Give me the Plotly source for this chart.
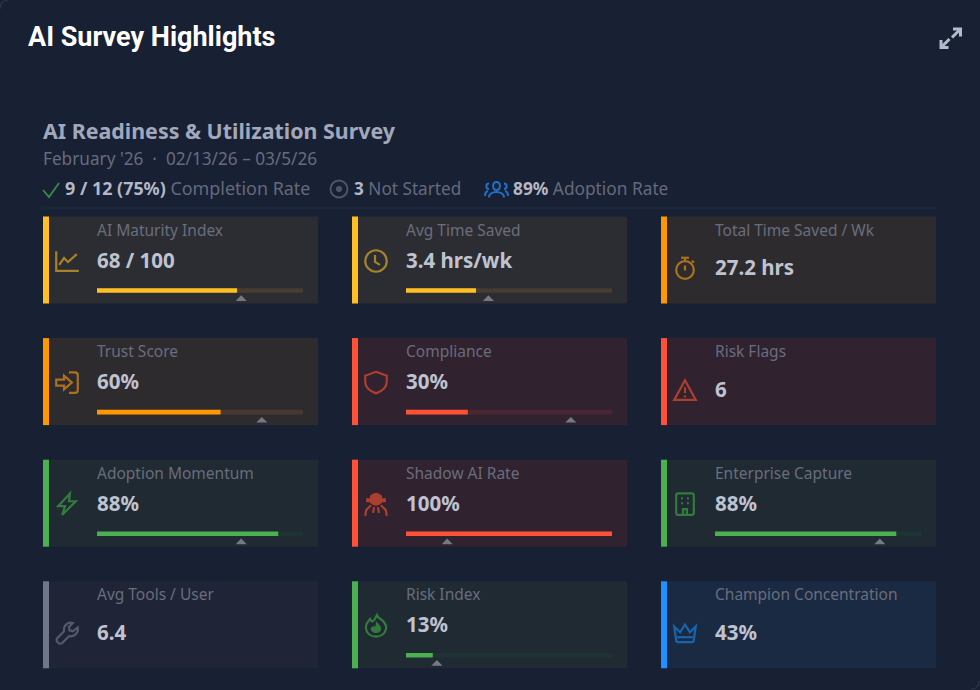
import re
import plotly.graph_objects as go

# card content, row by row
labels = ["AI Maturity Index", "Avg Time Saved", "Total Time Saved / Wk",
          "Trust Score", "Compliance", "Risk Flags",
          "Adoption Momentum", "Shadow AI Rate", "Enterprise Capture",
          "Avg Tools / User", "Risk Index", "Champion Concentration"]
value_text = ["68 / 100", "3.4 hrs/wk", "27.2 hrs",
              "60%", "30%", "6",
              "88%", "100%", "88%",
              "6.4", "13%", "43%"]
progress = [68, 34, None,
            60, 30, None,
            88, 100, 88,
            None, 13, None]
benchmark = [70, 40, None,
             80, 80, None,
             70, 20, 80,
             None, 15, None]
status = ["caution", "caution", "warn",
          "warn", "bad", "bad",
          "good", "bad", "good",
          "neutral", "good", "info"]
icons = ["chart", "clock", "stopwatch",
         "login", "shield", "alert",
         "bolt", "spy", "building",
         "wrench", "fire", "crown"]

title = "AI Survey Highlights"
survey_name = "AI Readiness & Utilization Survey"
survey_period = "February '26\u00a0\u00a0·\u00a0\u00a002/13/26 – 03/5/26"
completion_bold, completion_rest = "9 / 12 (75%)", "Completion Rate"
not_started_bold, not_started_rest = "3", "Not Started"
adoption_bold, adoption_rest = "89%", "Adoption Rate"

W, H = 980, 690
BG = "#182033"
ACCENT = {"caution": "#FFBF25", "warn": "#FF9800", "bad": "#FF5135",
          "good": "#4CAF50", "neutral": "#70768C", "info": "#1E90FF"}
CARD = {"caution": "#2C2D33", "warn": "#2E2B2F", "bad": "#30222F",
        "good": "#1F2A33", "neutral": "#1F2437", "info": "#1A2A43"}
TRACK = {"caution": "#453D2F", "warn": "#48382F", "bad": "#4A2630",
         "good": "#1E3334", "neutral": "#2A2E40", "info": "#1C3350"}
ICON = {"caution": "#A5832A", "warn": "#AB711F", "bad": "#AC3F2F",
        "good": "#347A3E", "neutral": "#53586A", "info": "#1A64AD"}
LABEL_COL = "#696D7C"
VALUE_COL = "#BFC3D0"
TRI_COL = "#767884"

# icons drawn on a 24x24 box: (path, filled)
ICON_PATHS = {
    "chart": [("M1,2 L1,22 L24,22", False), ("M4,16 L9,9 L13,13 L22,5", False)],
    "clock": [("M12,1 C18,1 23,6 23,12 C23,18 18,23 12,23 C6,23 1,18 1,12 C1,6 6,1 12,1 Z", False),
              ("M11,6 L11,13 L16,16", False)],
    "stopwatch": [("M12,4.5 C17,4.5 21,8.5 21,13.5 C21,18.5 17,22.5 12,22.5 C7,22.5 3,18.5 3,13.5 C3,8.5 7,4.5 12,4.5 Z", False),
                  ("M8,1 L16,1", False), ("M12,1 L12,4", False), ("M12,9 L12,14", False), ("M19,4 L21,6", False)],
    "login": [("M14,1.5 L20,1.5 Q23,1.5 23,4.5 L23,19.5 Q23,22.5 20,22.5 L14,22.5", False),
              ("M1,9 L9,9 L9,5 L17,12 L9,19 L9,15 L1,15 Z", False)],
    "shield": [("M12,1 L23,5 L23,11 C23,17 18,21 12,23 C6,21 1,17 1,11 L1,5 Z", False)],
    "alert": [("M12,2 L23,22 L1,22 Z", False), ("M12,9 L12,15", False), ("M12,17.5 L12,19.5", False)],
    "bolt": [("M15,1 L3,14 L10,14 L7,23 L21,9 L14,9 Z", False)],
    "spy": [("M7,4 Q12,-1 17,4 L17,7 L21,7 L21,9 L17,9 L17,10 Q12,15 7,10 L7,9 L3,9 L3,7 L7,7 Z", True),
            ("M7,13 L2,18 L1,24", False), ("M17,13 L22,18 L23,24", False),
            ("M10,15 L9,21", False), ("M14,15 L15,21", False)],
    "fire": [("M13,1 C14,4 17,5 19,7 C22,10 23,13 22,16 C21,20 17,23 12,23 C7,23 3,20 2,16 C1,12 3,8 6,5 C7,7 8,8 9,7 C11,6 12,3 13,1 Z", False),
             ("M13,10 C15,12 17,14 16,16 C15,19 9,19 8,16 C7,14 9,13 11,14 C12,14 13,12 13,10 Z", True)],
    "building": [("M5,1 L19,1 Q21,1 21,3 L21,21 Q21,23 19,23 L5,23 Q3,23 3,21 L3,3 Q3,1 5,1 Z", False),
                 ("M8,6 L10,6", False), ("M14,6 L16,6", False), ("M8,11 L10,11", False), ("M14,11 L16,11", False),
                 ("M10,23 L10,17 L14,17 L14,23", False)],
    "wrench": [("M23,6 L18,10 L14.5,9 L14,5.5 L18,1.5 C13,0 8,4 9,10 L2,17 C0,20 4,24 7,22 L14,15 C19,16 24,12 23,6 Z", False)],
    "crown": [("M1,5 L7,11 L12,3 L17,11 L23,5 L21,19 Q21,21 19,21 L5,21 Q3,21 3,19 Z", False), ("M4,16 L20,16", False)],
}


def place(path, cx, cy, size):
    # move a 24-box path to pixel position on the page axes
    k = size / 24

    def repl(m):
        return f"{cx + (float(m[1]) - 12) * k:.2f},{cy + (float(m[2]) - 12) * k:.2f}"

    return re.sub(r"(-?[\d.]+),(-?[\d.]+)", repl, path)


def draw_icon(name, cx, cy, size, color, width=2.2):
    for path, filled in ICON_PATHS[name]:
        shapes.append(dict(type="path", path=place(path, cx, cy, size), xref="x", yref="y",
                           line=dict(color=color, width=width),
                           fillcolor=color if filled else "rgba(0,0,0,0)", layer="below"))


def add_text(x, y, text, size, color, family="Noto Sans"):
    annotations.append(dict(x=x, y=y, xref="x", yref="y", text=text, showarrow=False,
                            xanchor="left", yanchor="middle", borderpad=0,
                            font=dict(family=family, size=size, color=color)))


def stroke(path, color, width):
    shapes.append(dict(type="path", path=path, xref="x", yref="y",
                       line=dict(color=color, width=width), layer="below"))


fig = go.Figure()
shapes = []
annotations = []

# page axes, one unit per pixel
fig.add_trace(go.Scatter(x=[], y=[], hoverinfo="skip", showlegend=False))

add_text(27, 37, f"<b>{title}</b>", 27, "#FFFFFF", "Roboto")
add_text(42, 130, f"<b>{survey_name}</b>", 21.4, "#A2A8BC")
add_text(42, 158, survey_period, 17.2, "#666C7E")
add_text(64, 188, f'<b style="color:#B4B8C6">{completion_bold}</b> {completion_rest}', 17.9, "#646A7C")
add_text(353, 188, f'<b style="color:#B4B8C6">{not_started_bold}</b> {not_started_rest}', 17.2, "#646A7C")
add_text(512, 188, f'<b style="color:#B4B8C6">{adoption_bold}</b> {adoption_rest}', 17.3, "#646A7C")

# header icons
stroke("M43,190 L49,197 L59,183", "#3C8A48", 1.8)
shapes.append(dict(type="circle", x0=330.5, x1=347.5, y0=180.5, y1=197.5, xref="x", yref="y",
                   line=dict(color="#4F5668", width=1.8), layer="below"))
shapes.append(dict(type="circle", x0=336, x1=342, y0=186, y1=192, xref="x", yref="y",
                   line=dict(width=0), fillcolor="#4F5668", layer="below"))
people = ["M496.5,182 C501,182 501,190 496.5,190 C492,190 492,182 496.5,182 Z",
          "M489,197.5 C489,190 504,190 504,197.5",
          "M489,183.5 C485.5,183.5 485.5,189 489,189",
          "M504,183.5 C507.5,183.5 507.5,189 504,189",
          "M485,196 C485,193 486,191.5 488,191",
          "M508,196 C508,193 507,191.5 505,191"]
for p in people:
    stroke(p, "#1D72C8", 2)

# expand icon, top right
for p in ["M953,29 L960.5,29 L960.5,36.5", "M959,30.5 L952,37.5", "M941,40 L941,47.5 L948.5,47.5", "M942.5,46 L949.5,39"]:
    stroke(p, "#B5BBCB", 3)

# rounded page corners
stroke("M0,9 Q0,0 9,0", "#2C3548", 1.2)
stroke("M971,689 Q979,689 979,681", "#2C3548", 1.2)

# rule under the header
shapes.append(dict(type="line", x0=43, x1=936, y0=208, y1=208, xref="x", yref="y",
                   line=dict(color="#1E2A42", width=1), layer="below"))

CARD_W, CARD_H = 275, 87
BAR_X, BAR_W = 54, 206
axes = {}
for i, label in enumerate(labels):
    col, row = i % 3, i // 3
    x0 = 43 + 309 * col
    y0 = 216.5 + 121.6 * row
    st = status[i]
    has_bar = progress[i] is not None

    shapes.append(dict(type="rect", x0=x0, x1=x0 + CARD_W, y0=y0, y1=y0 + CARD_H, xref="x", yref="y",
                       line=dict(width=0), fillcolor=CARD[st], layer="below"))
    shapes.append(dict(type="rect", x0=x0, x1=x0 + 6, y0=y0, y1=y0 + CARD_H, xref="x", yref="y",
                       line=dict(width=0), fillcolor=ACCENT[st], layer="below"))

    offset = 43 if has_bar else 50.5
    draw_icon(icons[i], x0 + 24, y0 + (44.5 if has_bar else 52), 23.5, ICON[st])
    add_text(x0 + 53, y0 + 13, label, 15.5, LABEL_COL)
    add_text(x0 + 53, y0 + offset, f"<b>{value_text[i]}</b>", 20.5, VALUE_COL)

    if not has_bar:
        continue

    # each progress bar has its own 0-100 axis, 16 px tall
    n = len(axes) // 2 + 2
    axes[f"xaxis{n}"] = dict(domain=[(x0 + BAR_X) / W, (x0 + BAR_X + BAR_W) / W], range=[0, 100],
                             visible=False, anchor=f"y{n}")
    axes[f"yaxis{n}"] = dict(domain=[1 - (y0 + 86) / H, 1 - (y0 + 70) / H], range=[16, 0],
                             visible=False, anchor=f"x{n}")
    fig.add_trace(go.Bar(x=[100], y=[4], width=[4.6], orientation="h", marker=dict(color=TRACK[st], line_width=0),
                         xaxis=f"x{n}", yaxis=f"y{n}", showlegend=False, hoverinfo="skip"))
    fig.add_trace(go.Bar(x=[progress[i]], y=[4], width=[4.6], orientation="h", marker=dict(color=ACCENT[st], line_width=0),
                         xaxis=f"x{n}", yaxis=f"y{n}", name=label, showlegend=False))
    b = benchmark[i]
    fig.add_trace(go.Scatter(x=[b - 2.7, b + 2.7, b, b - 2.7], y=[14.5, 14.5, 8.8, 14.5], mode="lines", fill="toself",
                             fillcolor=TRI_COL, line=dict(width=0, color=TRI_COL),
                             xaxis=f"x{n}", yaxis=f"y{n}", showlegend=False, hoverinfo="skip"))

fig.update_layout(
    width=W,
    height=H,
    margin=dict(l=0, r=0, t=0, b=0),
    paper_bgcolor=BG,
    plot_bgcolor="rgba(0,0,0,0)",
    barmode="overlay",
    showlegend=False,
    xaxis=dict(domain=[0, 1], range=[0, W], visible=False),
    yaxis=dict(domain=[0, 1], range=[H, 0], visible=False),
    shapes=shapes,
    annotations=annotations,
    **axes,
)

fig.write_html("out.html", config=dict(displayModeBar=False),
               post_script="document.body.style.margin='0';document.body.style.overflow='hidden';")
